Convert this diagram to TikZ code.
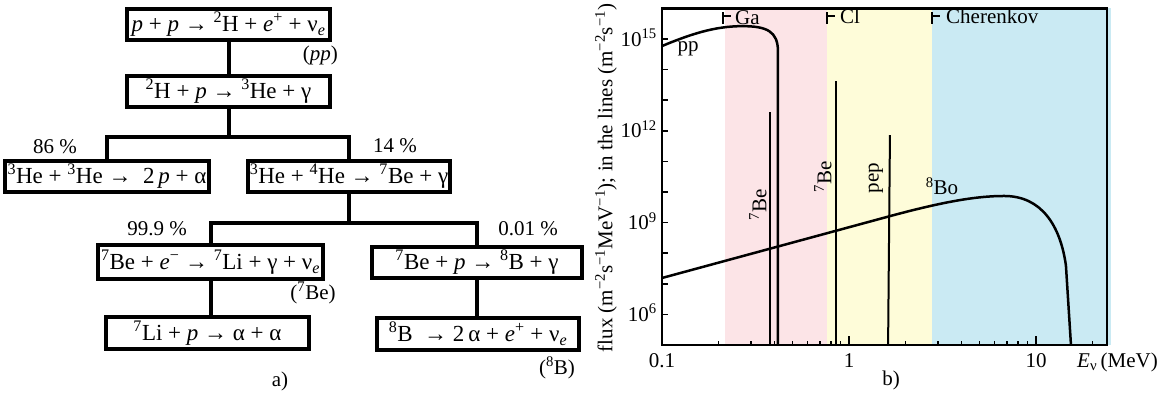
\documentclass[tikz,border=0pt]{standalone}
\usepackage{fontspec}
\setmainfont{Liberation Serif}
\newcommand{\iso}[2]{\textsuperscript{#1}#2}
\newcommand{\nue}{ν\textsubscript{\textit{e}}}
\definecolor{gaband}{RGB}{252,228,231}
\definecolor{clband}{RGB}{254,252,217}
\definecolor{chband}{RGB}{202,234,243}

\begin{document}
\begin{tikzpicture}[
  x=1pt, y=-1pt,
  rbox/.style={draw, line width=4pt, inner sep=0pt, font=\fontsize{23}{27}\selectfont},
  link/.style={line width=4pt},
  pct/.style={font=\fontsize{21}{24}\selectfont, inner sep=0pt},
  lbl/.style={font=\fontsize{21}{24}\selectfont, inner sep=0pt},
  spec/.style={line width=2.5pt},
]
\useasboundingbox (0,0) rectangle (1157,399);

% a) reaction chain
\node[rbox, minimum width=203pt, minimum height=31pt] (pp1) at (228.5,24.5)
  {\textit{p} + \textit{p} →~\iso{2}{H} + \textit{e}\textsuperscript{+} + \nue};
\node[rbox, minimum width=203pt, minimum height=31pt] (pp2) at (228.5,91.5)
  {\iso{2}{H} + \textit{p} →~\iso{3}{He} + γ};
\node[rbox, minimum width=204pt, minimum height=31pt] (he3) at (107,176.5)
  {\iso{3}{He} + \iso{3}{He} →~~2\,\textit{p} + α};
\node[rbox, minimum width=202pt, minimum height=31pt] (he4) at (349,176.5)
  {\iso{3}{He} + \iso{4}{He} →~\iso{7}{Be} + γ};
\node[rbox, minimum width=225pt, minimum height=34pt] (be7e) at (210.5,262)
  {\iso{7}{Be} + \textit{e}\textsuperscript{−} →~\iso{7}{Li} + γ + \nue};
\node[rbox, minimum width=210pt, minimum height=31pt] (be7p) at (477,262.5)
  {\iso{7}{Be} + \textit{p} →~\iso{8}{B} + γ};
\node[rbox, minimum width=203pt, minimum height=32pt] (li7) at (207.5,333)
  {\iso{7}{Li} + \textit{p} → α + α};
\node[rbox, minimum width=202pt, minimum height=32pt] (b8) at (478,334)
  {\iso{8}{B} ~→~2\,α + \textit{e}\textsuperscript{+} + \nue};

\coordinate (j1) at (228.5,137);
\coordinate (j2) at (349,223);
\draw[link] (pp1.south) -- (pp2.north);
\draw[link] (pp2.south) -- (j1);
\draw[link] (he3.north) |- (j1) -| (he4.north);
\draw[link] (he4.south) -- (j2);
\draw[link] (be7e.north) |- (j2) -| (be7p.north);
\draw[link] (be7e.south) -- (be7e.south |- li7.north);
\draw[link] (be7p.south) -- (be7p.south |- b8.north);

\node[pct, anchor=east] (tpp) at (338,55) {(\textit{pp})};
\node[pct] (p86) at (55,147) {86 \%};
\node[pct] (p14) at (395,146) {14 \%};
\node[pct] (p999) at (157,229) {99.9 \%};
\node[pct] (p001) at (528,229) {0.01 \%};
\node[pct] (tbe) at (313,293) {(\iso{7}{Be})};
\node[pct] (tb) at (557,368) {(\iso{8}{B})};
\node[pct] (capa) at (280,381) {a)};

% b) spectrum, u = log E + 1, v = log flux - 5
\begin{scope}[shift={(662,345)}, x=187pt, y=30.6pt]
  \fill[gaband] (0.337,0) rectangle (0.88,11);
  \fill[clband] (0.88,0) rectangle (1.444,11);
  \fill[chband] (1.444,0) rectangle (2.40,11);
  \foreach \d in {0,1,2} {
    \draw[line width=1.5pt] (\d,0) -- ++(0,9pt);
    \foreach \m in {2,...,9} {
      \pgfmathsetmacro\u{\d+ln(\m)/ln(10)}
      \ifdim\u pt<2.38pt
        \draw[line width=1.5pt] (\u,0) -- ++(0,4pt);
      \fi
    }
  }
  \foreach \v in {1,...,10}
    \draw[line width=1.5pt] (0,\v) -- ++(6pt,0);
  \foreach \v/\e in {1/6,4/9,7/12,10/15}
    \node[lbl, anchor=base east] (y\e) at ([xshift=-5pt,yshift=-7pt]0,\v) {10\textsuperscript{\e}};
  \foreach \d/\t in {0/0.1,1/1,2/10}
    \node[lbl, anchor=base] (x\d) at ([yshift=-22pt]\d,0) {\t};
  % pp continuum
  \draw[spec] (0,9.77) .. controls (0.15,10.15) and (0.28,10.42) .. (0.43,10.42)
    .. controls (0.56,10.42) and (0.62,10.25) .. (0.62,9.6) -- (0.62,0);
  % lines
  \draw[line width=1.5pt] (0.578,0) -- (0.578,7.6);
  \draw[spec] (0.93,0) -- (0.93,8.63);
  \draw[line width=2pt] (1.209,0) -- (1.219,6.86);
  % 8B continuum
  \draw[spec] (0,2.19) -- (1.2,4.18) .. controls (1.5,4.68) and (1.68,4.87) .. (1.83,4.87)
    .. controls (2.03,4.87) and (2.13,3.9) .. (2.16,2.6) -- (2.187,0);
  \draw[line width=2.5pt] (0,0) rectangle (2.38,11);
\end{scope}

\draw[line width=2pt] (723,12) -- (723,24) (723,16) -- (731,16);
\draw[line width=2pt] (827,12) -- (827,24) (827,16) -- (835,16);
\draw[line width=2pt] (932,12) -- (932,24) (932,16) -- (940,16);
\node[lbl, anchor=base west] (ga) at (735,24) {Ga};
\node[lbl, anchor=base west] (cl) at (840,23) {Cl};
\node[lbl, anchor=base west] (ch) at (946,23) {Cherenkov};

\node[lbl] (tpp2) at (688,49) {pp};
\node[lbl, rotate=90] (tbe1) at (758,205) {\iso{7}{Be}};
\node[lbl, rotate=90] (tbe2) at (823,177) {\iso{7}{Be}};
\node[lbl, rotate=90] (tpep) at (876,178) {pep};
\node[lbl] (tbo) at (942,186) {\iso{8}{Bo}};

\node[lbl, rotate=90] (ylab) at (606,178)
  {flux (m\textsuperscript{−2}s\textsuperscript{−1}MeV\textsuperscript{−1}); in the lines (m\textsuperscript{−2}s\textsuperscript{−1})};
\node[lbl, anchor=base west] (elab) at (1077,367) {\textit{E}\textsubscript{ν}\,(MeV)};
\node[pct] (capb) at (891,380) {b)};
\end{tikzpicture}
\end{document}
